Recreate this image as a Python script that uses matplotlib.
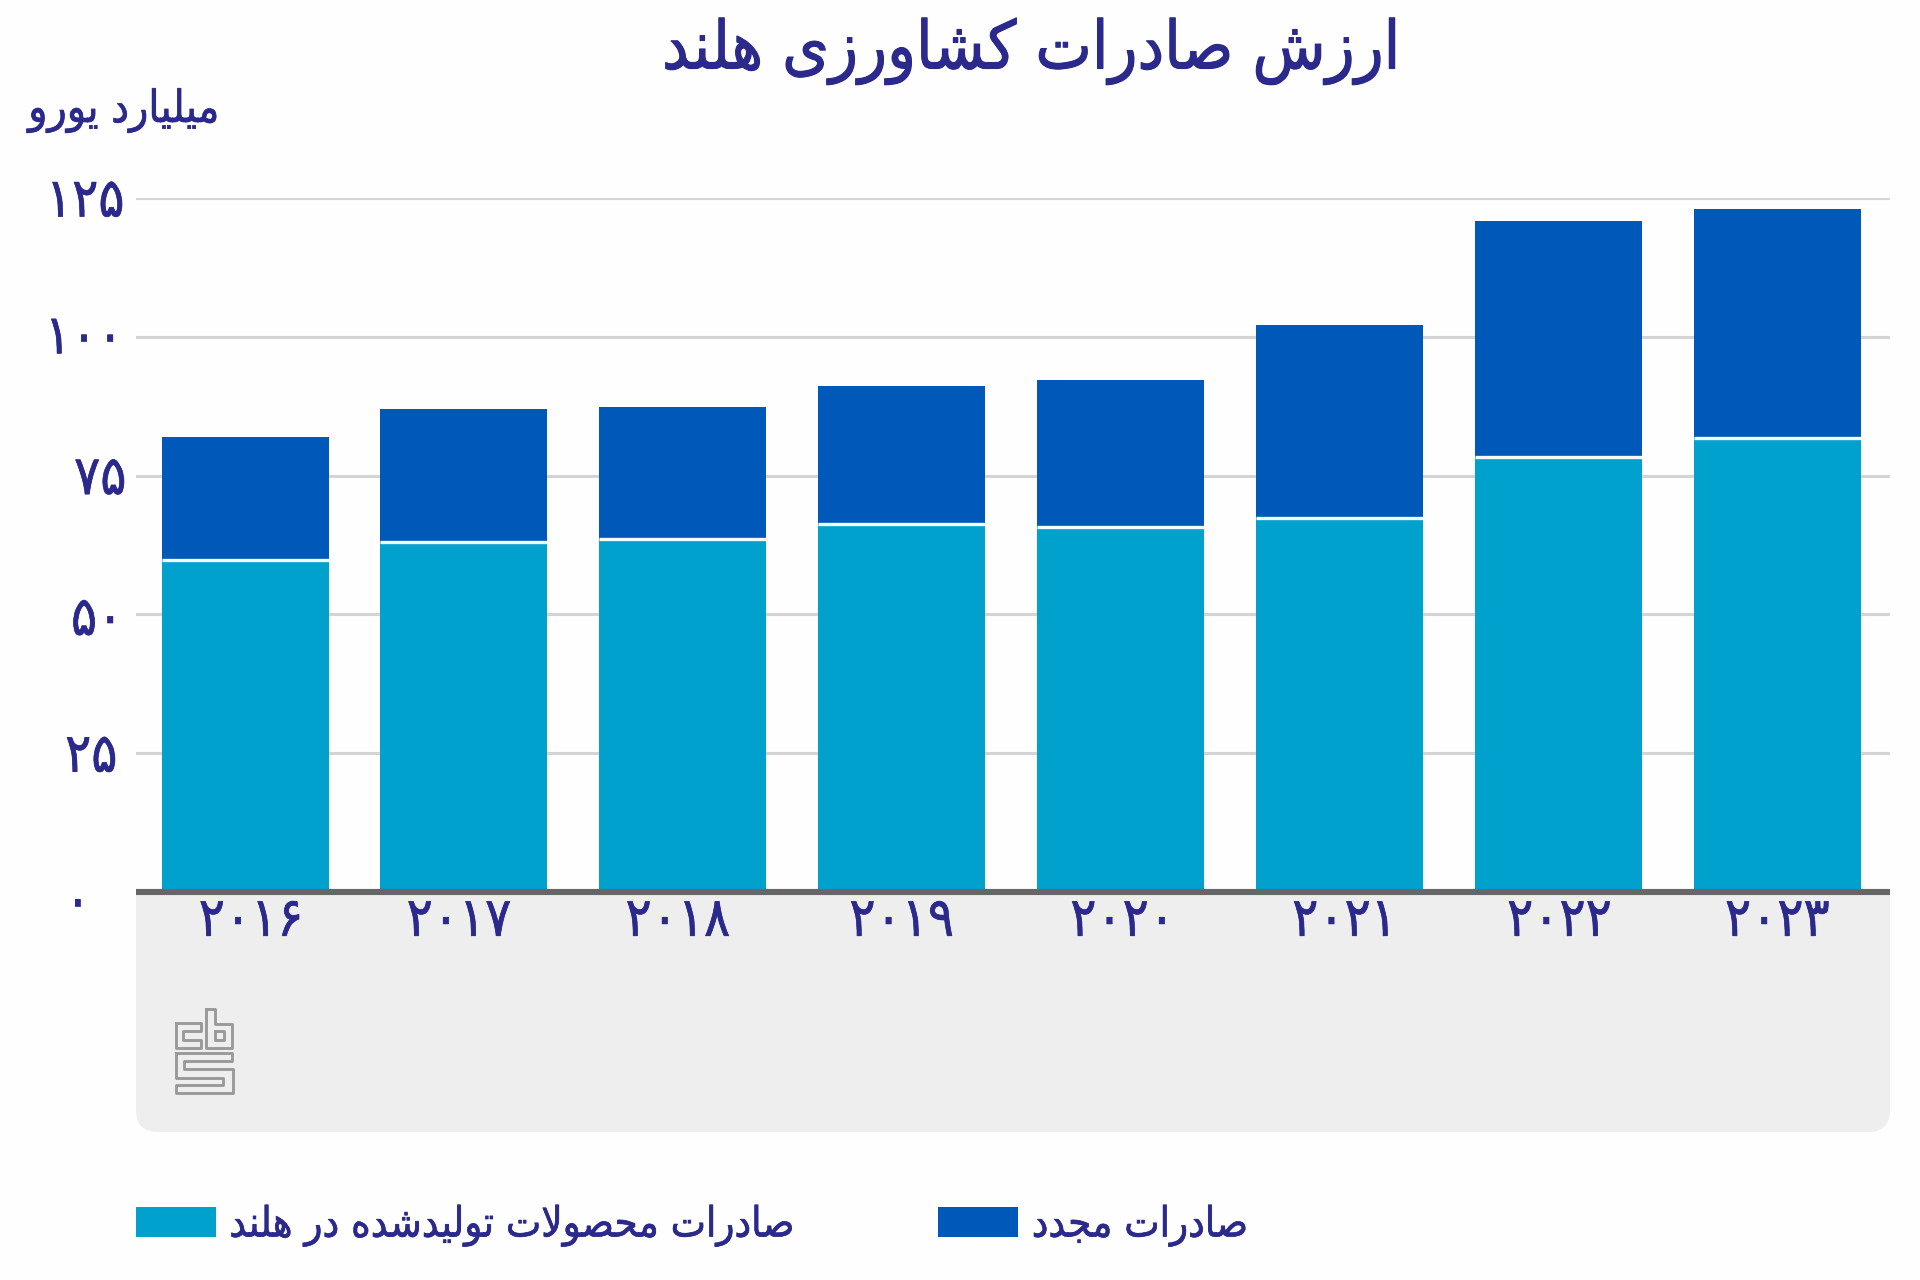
import matplotlib
matplotlib.use("Agg")
import matplotlib.pyplot as plt
import matplotlib.patheffects as pe
from matplotlib.patches import FancyBboxPatch, Patch
from matplotlib.lines import Line2D
from matplotlib.transforms import IdentityTransform, Affine2D

years = ["۲۰۱۶", "۲۰۱۷", "۲۰۱۸", "۲۰۱۹", "۲۰۲۰", "۲۰۲۱", "۲۰۲۲", "۲۰۲۳"]
domestic = [59.8, 63.1, 63.6, 66.2, 65.8, 67.3, 78.4, 81.7]
reexport = [22.1, 23.9, 23.8, 25.0, 26.5, 34.9, 42.4, 41.3]
y_ticks = [0, 25, 50, 75, 100, 125]
y_labels = ["۰", "۲۵", "۵۰", "۷۵", "۱۰۰", "۱۲۵"]
title = "ارزش صادرات کشاورزی هلند"
unit = "میلیارد یورو"
legend_labels = ["صادرات محصولات تولیدشده در هلند", "صادرات مجدد"]

INK = "#2B2A8C"
LIGHT = "#00A1CD"
DARK = "#0058B8"
FONT = {"family": "DejaVu Sans", "stretch": "condensed"}
THICK = [pe.withStroke(linewidth=0.5, foreground=INK)]

FORMS = {
    "ا": "\uFE8D\uFE8E", "د": "\uFEA9\uFEAA", "ر": "\uFEAD\uFEAE", "ز": "\uFEAF\uFEB0", "و": "\uFEED\uFEEE",
    "ت": "\uFE95\uFE96\uFE97\uFE98", "ج": "\uFE9D\uFE9E\uFE9F\uFEA0", "ح": "\uFEA1\uFEA2\uFEA3\uFEA4",
    "ش": "\uFEB5\uFEB6\uFEB7\uFEB8", "ص": "\uFEB9\uFEBA\uFEBB\uFEBC", "ک": "\uFB8E\uFB8F\uFB90\uFB91",
    "ل": "\uFEDD\uFEDE\uFEDF\uFEE0", "م": "\uFEE1\uFEE2\uFEE3\uFEE4", "ن": "\uFEE5\uFEE6\uFEE7\uFEE8",
    "ه": "\uFEE9\uFEEA\uFEEB\uFEEC", "ی": "\uFBFC\uFBFD\uFBFE\uFBFF",
}


def shape(text):
    out = []
    i = 0
    prev_joins = False
    while i < len(text):
        c = text[i]
        if c not in FORMS:
            out.append(c)
            prev_joins = False
            i += 1
            continue
        if c == "ل" and i + 1 < len(text) and text[i + 1] == "ا":
            out.append("\uFEFC" if prev_joins else "\uFEFB")
            prev_joins = False
            i += 2
            continue
        forms = FORMS[c]
        dual = len(forms) == 4
        next_ok = dual and i + 1 < len(text) and text[i + 1] in FORMS
        if prev_joins and next_ok:
            out.append(forms[3])
        elif prev_joins:
            out.append(forms[1])
        elif next_ok:
            out.append(forms[2])
        else:
            out.append(forms[0])
        prev_joins = next_ok
        i += 1
    return "".join(reversed(out))


W, H = 1920, 1280
fig = plt.figure(figsize=(W / 100, H / 100), dpi=100, facecolor="#FEFEFE")


def fx(p):
    return p / W


def fy(p):
    return 1 - p / H


TOP, BASE, LEFT, RIGHT = 198, 892, 136, 1890
ax = fig.add_axes([fx(LEFT), fy(BASE), (RIGHT - LEFT) / W, (BASE - TOP) / H], facecolor="#FEFEFE", zorder=2)
pos = list(range(len(years)))
ax.set_xlim(-0.498, 7.515)
ax.set_ylim(0, 125)

ax.set_axisbelow(True)
ax.grid(axis="y", color="#D4D4D4", lw=2.2)
bw = 0.763
ax.bar(pos, domestic, width=bw, color=LIGHT, zorder=2)
ax.bar(pos, reexport, bottom=domestic, width=bw, color=DARK, zorder=2)
ax.hlines(domestic, [p - bw / 2 for p in pos], [p + bw / 2 for p in pos], color="#F4FBFD", lw=2.4, zorder=3)

for s in ["top", "left", "right"]:
    ax.spines[s].set_visible(False)
ax.spines["bottom"].set_color("#666666")
ax.spines["bottom"].set_linewidth(4.4)
ax.spines["bottom"].set_capstyle("butt")
ax.spines["bottom"].set_zorder(5)

ax.set_xticks(pos, years, color=INK, fontsize=39, **FONT)
ax.tick_params(axis="x", length=0, pad=2)
ax.set_yticks(y_ticks, y_labels, color=INK, fontsize=39, **FONT)
ax.tick_params(axis="y", length=0, pad=12)

# small per-label pixel nudges seen in the reference
x_nudge = [6, -5, -5, 0, 2, 5, 1, 0]
y_nudge = [(-29, -5), (-2, 2), (4, 0), (7, 2), (4, 4), (5, 2)]
for lab, dx in zip(ax.get_xticklabels(), x_nudge):
    lab.set_transform(lab.get_transform() + Affine2D().translate(dx, 0))
    lab.set_path_effects(THICK)
for lab, (dx, dy) in zip(ax.get_yticklabels(), y_nudge):
    lab.set_transform(lab.get_transform() + Affine2D().translate(dx, dy))
    lab.set_path_effects(THICK)

panel = FancyBboxPatch((LEFT, H - 1132), RIGHT - LEFT, 300, boxstyle="round,pad=0,rounding_size=22",
                       facecolor="#EEEEEE", edgecolor="none", transform=IdentityTransform(), zorder=0)
fig.add_artist(panel)

fig.text(fx(1031), fy(51), shape(title), color=INK, fontsize=48, ha="center", va="center",
         path_effects=[pe.withStroke(linewidth=0.8, foreground=INK)], **FONT)
fig.text(fx(124), fy(111), shape(unit), color=INK, fontsize=32, ha="center", va="center", path_effects=THICK, **FONT)

# statistics office logo, drawn as pixel outlines
logo = [
    [(176, 1023), (201, 1023), (201, 1031), (183, 1031), (183, 1040), (201, 1040), (201, 1048), (176, 1048), (176, 1023)],
    [(206, 1009), (215, 1009), (215, 1024), (232, 1024), (232, 1048), (206, 1048), (206, 1009)],
    [(215, 1031), (224, 1031), (224, 1040), (215, 1040), (215, 1031)],
    [(176, 1053), (232, 1053), (232, 1061), (184, 1061), (184, 1069), (233, 1069), (233, 1093), (176, 1093),
     (176, 1085), (223, 1085), (223, 1078), (176, 1078), (176, 1053)],
]
for path in logo:
    fig.add_artist(Line2D([fx(p[0]) for p in path], [fy(p[1]) for p in path], color="#9A9A9A", lw=2.1,
                          transform=fig.transFigure, zorder=1))

handles = [Patch(facecolor=LIGHT, edgecolor="none"), Patch(facecolor=DARK, edgecolor="none")]
leg = fig.legend(handles, [shape(t) for t in legend_labels], ncols=2, frameon=False,
                 loc="center left", bbox_to_anchor=(fx(136), fy(1225)), borderpad=0, borderaxespad=0,
                 handlelength=1.92, handleheight=0.74, handletextpad=0.32, columnspacing=3.47,
                 prop={"family": "DejaVu Sans", "stretch": "condensed", "size": 30})
for t in leg.get_texts():
    t.set_color(INK)
    t.set_path_effects(THICK)

fig.savefig("out.png", dpi=100, facecolor=fig.get_facecolor())
